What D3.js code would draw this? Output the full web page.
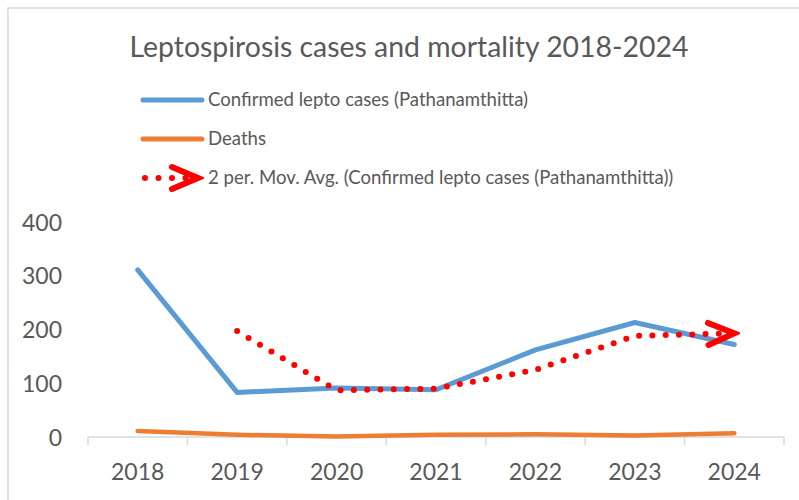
<!DOCTYPE html>
<html lang="en">
<head>
	<meta charset="UTF-8">
	<title>Leptospirosis cases and mortality</title>
	<script src="https://cdn.jsdelivr.net/npm/d3@7"></script>
	<style>
		body { margin: 0; background: #fff; }
		text { font-family: Lato, "Noto Sans", sans-serif; fill: #595959; }
	</style>
</head>
<body>
	<div id="viz-wrapper"></div>

	<script type="text/javascript">
    // values
    var years = ['2018', '2019', '2020', '2021', '2022', '2023', '2024'];
    var cases = [311, 83, 91, 88, 162, 213, 172];
    var deaths = [11, 4, 1, 4, 5, 3, 7];
    // 2 period moving average of cases, starts at 2019
    var movYears = ['2019', '2020', '2021', '2022', '2023', '2024'];
    var movAvg = [197, 87, 90, 125, 188, 193];
    var yTicks = [0, 100, 200, 300, 400];

    var width = 799, height = 500;

    var svg = d3.select('#viz-wrapper')
                .append('svg')
                .attr('width', width)
                .attr('height', height);

    // chart border
    svg.append('rect')
       .attr('x', 8).attr('y', 8)
       .attr('width', 820).attr('height', 520)
       .attr('fill', 'none')
       .attr('stroke', '#d9d9d9')
       .attr('stroke-width', 1.5);

    var x = d3.scaleBand().domain(years).range([88, 784]);
    var y = d3.scaleLinear().domain([0, 400]).range([437, 222]);
    var cx = function(yr) { return x(yr) + x.bandwidth() / 2; };

    // arrow head for the trendline
    var defs = svg.append('defs');
    defs.append('marker')
        .attr('id', 'arrow')
        .attr('markerUnits', 'userSpaceOnUse')
        .attr('markerWidth', 40).attr('markerHeight', 40)
        .attr('viewBox', '-34 -20 40 40')
        .attr('refX', 0).attr('refY', 0)
        .attr('orient', 'auto')
      .append('path')
        .attr('d', 'M-26,-11L0,0L-26,11')
        .attr('fill', 'none')
        .attr('stroke', '#ff0000')
        .attr('stroke-width', 6)
        .attr('stroke-linejoin', 'miter')
        .attr('stroke-linecap', 'round');

    // title
    svg.append('text')
       .attr('x', 409).attr('y', 57)
       .attr('text-anchor', 'middle')
       .style('font-size', '28.4px')
       .text('Leptospirosis cases and mortality 2018-2024');

    // legend
    var legend = svg.append('g');
    var rows = [
      {label: 'Confirmed lepto cases (Pathanamthitta)', color: '#5b9bd5', dotted: false},
      {label: 'Deaths', color: '#ed7d31', dotted: false},
      {label: '2 per. Mov. Avg. (Confirmed lepto cases (Pathanamthitta))', color: '#ff0000', dotted: true}
    ];
    rows.forEach(function(r, i) {
      var ly = 100 + i * 39;
      if (r.dotted) {
        legend.append('path')
              .attr('d', 'M145,' + ly + 'L198,' + ly)
              .attr('fill', 'none')
              .attr('stroke', r.color)
              .attr('stroke-width', 6)
              .attr('stroke-linecap', 'round')
              .attr('stroke-dasharray', '0 13.5')
              .attr('marker-end', 'url(#arrow)');
      } else {
        legend.append('line')
              .attr('x1', 143).attr('x2', 202)
              .attr('y1', ly).attr('y2', ly)
              .attr('stroke', r.color)
              .attr('stroke-width', 5)
              .attr('stroke-linecap', 'round');
      }
      legend.append('text')
            .attr('x', 208).attr('y', ly + 6)
            .style('font-size', '18.6px')
            .text(r.label);
    });

    // y labels, no axis line
    svg.append('g').selectAll('text')
       .data(yTicks)
       .enter()
      .append('text')
       .attr('x', 62)
       .attr('y', function(d) { return y(d) + 8.5; })
       .attr('text-anchor', 'end')
       .style('font-size', '23px')
       .text(function(d) { return d; });

    // x axis
    var xAxis = svg.append('g');
    xAxis.append('line')
         .attr('x1', 88).attr('x2', 784)
         .attr('y1', 437).attr('y2', 437)
         .attr('stroke', '#d9d9d9').attr('stroke-width', 1.5);
    var edges = years.map(function(d) { return x(d); }).concat([784]);
    xAxis.selectAll('.tick')
         .data(edges)
         .enter()
        .append('line')
         .attr('x1', function(d) { return d; }).attr('x2', function(d) { return d; })
         .attr('y1', 437).attr('y2', 445)
         .attr('stroke', '#d9d9d9').attr('stroke-width', 1.5);
    xAxis.selectAll('text')
         .data(years)
         .enter()
        .append('text')
         .attr('x', function(d) { return cx(d); })
         .attr('y', 480)
         .attr('text-anchor', 'middle')
         .style('font-size', '23px')
         .text(function(d) { return d; });

    var line = d3.line()
                 .x(function(d) { return cx(d[0]); })
                 .y(function(d) { return y(d[1]); });

    svg.append('path')
       .attr('d', line(d3.zip(years, deaths)))
       .attr('fill', 'none')
       .attr('stroke', '#ed7d31')
       .attr('stroke-width', 4.5)
       .attr('stroke-linejoin', 'round')
       .attr('stroke-linecap', 'round');

    svg.append('path')
       .attr('d', line(d3.zip(years, cases)))
       .attr('fill', 'none')
       .attr('stroke', '#5b9bd5')
       .attr('stroke-width', 5)
       .attr('stroke-linejoin', 'round')
       .attr('stroke-linecap', 'round');

    svg.append('path')
       .attr('d', line(d3.zip(movYears, movAvg)))
       .attr('fill', 'none')
       .attr('stroke', '#ff0000')
       .attr('stroke-width', 6)
       .attr('stroke-linecap', 'round')
       .attr('stroke-dasharray', '0 13.3')
       .attr('marker-end', 'url(#arrow)');
 	</script>
</body>
</html>
